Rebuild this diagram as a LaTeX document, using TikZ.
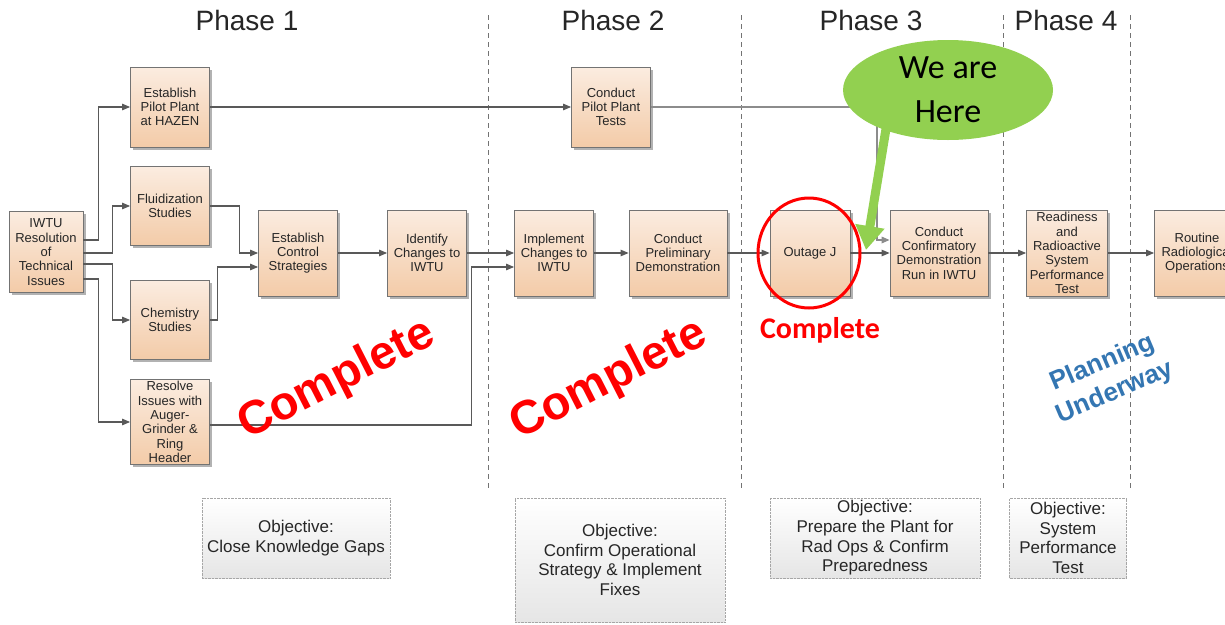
\documentclass[tikz,border=0pt]{standalone}
\usepackage{fontspec}
\setmainfont{Liberation Sans}
\newfontfamily\calibri{Carlito}
\usetikzlibrary{arrows.meta,shapes.geometric,shadows,calc}
\definecolor{peachtop}{RGB}{251,236,224}
\definecolor{peachbot}{RGB}{243,203,168}
\definecolor{heregreen}{RGB}{146,208,80}
\definecolor{planblue}{RGB}{52,118,178}

\begin{document}
\begin{tikzpicture}[x=1pt,y=-1pt,
	stepbox/.style={draw=black!55, line width=0.8pt, top color=peachtop, bottom color=peachbot,
		drop shadow={shadow xshift=2.5pt, shadow yshift=-2.5pt, fill=black!50, opacity=0.6},
		minimum width=79pt, minimum height=86pt, align=center, inner sep=1pt,
		font=\fontsize{13}{14.3}\selectfont, text=black!85},
	goalbox/.style={draw=black!35, densely dotted, top color=white, bottom color=black!10,
		minimum height=80pt, align=center, inner sep=1pt,
		font=\fontsize{17}{19.7}\selectfont, text=black!85},
	flow/.style={draw=black!65, line width=1.1pt, -{Triangle[length=8pt,width=6.5pt]}},
	phaseline/.style={draw=black!55, line width=0.8pt, dash pattern=on 5pt off 4pt},
	phaselabel/.style={font=\fontsize{28}{30}\selectfont, text=black!85},
	donelabel/.style={font=\bfseries\fontsize{47}{50}\selectfont, text=red},
	pointer/.style={draw=heregreen, line width=9pt, -{Triangle[length=24pt,width=28pt]}}]
	\newcommand{\topRow}{107}
	\newcommand{\midRow}{253}
	
	\clip (0,0) rectangle (1225,624);
	\fill[white] (0,0) rectangle (1225,624);		% background
	
	% phase borders and titles
	\foreach \px in {488,741,1003,1130}
		\draw[phaseline] (\px,15) -- (\px,490);
	\node[phaselabel] (ph1) at (247,20) {Phase 1};
	\node[phaselabel] (ph2) at (613,20) {Phase 2};
	\node[phaselabel] (ph3) at (871,20) {Phase 3};
	\node[phaselabel] (ph4) at (1066,20) {Phase 4};
	
	% phase 1
	\node[stepbox, minimum width=74pt, minimum height=81pt] (iwtu) at (46,252) {IWTU\\Resolution\\of\\Technical\\Issues};
	\node[stepbox, minimum height=80pt] (hazen) at (170,\topRow) {Establish\\Pilot Plant\\at HAZEN};
	\node[stepbox, minimum height=79pt] (fluid) at (170,206) {Fluidization\\Studies};
	\node[stepbox, minimum height=79pt] (chem) at (170,320) {Chemistry\\Studies};
	\node[stepbox, minimum height=85pt] (auger) at (170,422) {Resolve\\Issues with\\Auger-\\Grinder \&\\Ring\\Header};
	\node[stepbox] (control) at (298,\midRow) {Establish\\Control\\Strategies};
	\node[stepbox] (identify) at (427,\midRow) {Identify\\Changes to\\IWTU};
	
	% phase 2
	\node[stepbox, minimum height=80pt] (pilot) at (611,\topRow) {Conduct\\Pilot Plant\\Tests};
	\node[stepbox] (implement) at (554,\midRow) {Implement\\Changes to\\IWTU};
	\node[stepbox, minimum width=98pt] (prelim) at (678,\midRow) {Conduct\\Preliminary\\Demonstration};
	
	% phase 3 and 4
	\node[stepbox, minimum width=80pt] (outage) at (810,\midRow) {Outage J};
	\node[stepbox, minimum width=98pt] (confirm) at (939,\midRow) {Conduct\\Confirmatory\\Demonstration\\Run in IWTU};
	\node[stepbox, minimum width=81pt] (ready) at (1067,\midRow) {Readiness\\and\\Radioactive\\System\\Performance\\Test};
	\node[stepbox, minimum width=85pt] (routine) at (1197,\midRow) {Routine\\Radiological\\Operations};
	
	% connectors
	\draw[flow] (iwtu.east) ++(0,-12) -- ++(15,0) |- (hazen.west);
	\draw[flow] (iwtu.east) ++(0,1) -- ++(29,0) |- (fluid.west);
	\draw[flow] (iwtu.east) ++(0,12) -- ++(29,0) |- (chem.west);
	\draw[flow] (iwtu.east) ++(0,27) -- ++(15,0) |- (auger.west);
	\draw[flow] (fluid.east) -- ++(30,0) |- (control.west);
	\draw[flow] (chem.east) -- ++(8,0) |- ($(control.west)+(0,14)$);
	\draw[flow] (control) -- (identify);
	\draw[flow] (identify) -- (implement);
	\draw[flow] (auger.east) ++(0,3) -- ++(262,0) |- ($(implement.west)+(0,14)$);
	\draw[flow] (implement) -- (prelim);
	\draw[flow] (prelim) -- (outage);
	\draw[flow] (outage) -- (confirm);
	\draw[flow] (hazen) -- (pilot);
	\draw[flow, draw=black!45, line width=1.6pt] (pilot.east) -- ++(226,0) |- ($(confirm.west)+(0,-13)$);
	\draw[flow] (confirm) -- (ready);
	\draw[flow] (ready) -- (routine);
	
	% objectives
	\node[goalbox, minimum width=188pt] (goal1) at (296,538) {Objective:\\Close Knowledge Gaps};
	\node[goalbox, minimum width=210pt, minimum height=124pt] (goal2) at (620,560) {Objective:\\Confirm Operational\\Strategy \& Implement\\Fixes};
	\node[goalbox, minimum width=210pt] (goal3) at (875,538) {Objective:\\Prepare the Plant for\\Rad Ops \& Confirm\\Preparedness};
	\node[goalbox, minimum width=117pt] (goal4) at (1068,538) {Objective:\\System\\Performance\\Test};
	
	% status marks
	\node[donelabel, rotate=27] (done1) at (337,380) {Complete};
	\node[donelabel, rotate=27] (done2) at (609,380) {Complete};
	\node[font=\bfseries\fontsize{26}{32}\selectfont, text=planblue, align=center, rotate=23] (plan) at (1109,378) {Planning\\Underway};
	\node[draw=red, line width=3pt, ellipse, minimum width=102pt, minimum height=110pt] (ring) at (809,253) {};
	\node[font=\calibri\bfseries\fontsize{30}{34}\selectfont, text=red] (outagedone) at (820,330) {Complete};
	
	% we are here callout
	\coordinate (tip) at (866,250);
	\node[ellipse, fill=heregreen, minimum width=210pt, minimum height=100pt, inner sep=-4pt, align=center,
		font=\calibri\fontsize{34}{44}\selectfont] (here) at (948,90) {We are\\Here};
	\draw[pointer] ($(here.212)+(3,-8)$) -- (tip);
\end{tikzpicture}
\end{document}
